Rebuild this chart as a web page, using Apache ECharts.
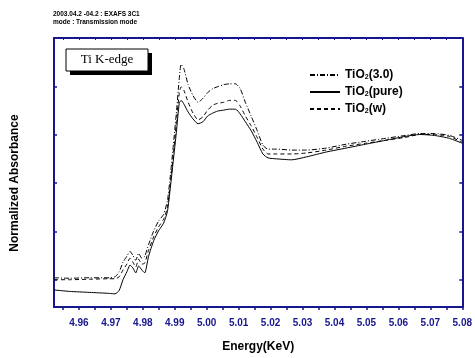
<!DOCTYPE html>
<html><head><meta charset="utf-8">
<script src="https://cdn.jsdelivr.net/npm/echarts@6/dist/echarts.min.js"></script>
<style>html,body{margin:0;padding:0;background:#fff}#c{width:475px;height:358px}</style>
</head><body><div id="c"></div>
<script>
// Energy (keV) sample points
const energy = [4.9522,4.9571,4.9633,4.9695,4.9713,4.9726,4.9738,4.9750,4.9760,4.9769,4.9778,4.9787,4.9797,4.9806,4.9818,4.9834,4.9849,4.9865,4.9877,4.9886,4.9895,4.9905,4.9914,4.9920,4.9929,4.9942,4.9957,4.9973,4.9988,5.0003,5.0019,5.0034,5.0053,5.0071,5.0090,5.0105,5.0121,5.0139,5.0158,5.0176,5.0192,5.0219,5.0266,5.0312,5.0374,5.0436,5.0497,5.0559,5.0621,5.0667,5.0713,5.0760,5.0800];
// Normalized absorbance, TiO2(3.0)
const tio2_30 = [0.2081,0.2060,0.2081,0.2081,0.2121,0.2323,0.2726,0.2968,0.3169,0.3008,0.2806,0.3089,0.2887,0.2968,0.3452,0.4016,0.4419,0.4702,0.5266,0.6274,0.7484,0.8895,1.0306,1.0911,1.0710,1.0065,0.9621,0.9339,0.9500,0.9742,0.9903,0.9984,1.0065,1.0105,1.0105,0.9903,0.9339,0.8774,0.8169,0.7565,0.7403,0.7403,0.7363,0.7363,0.7444,0.7605,0.7726,0.7847,0.7968,0.8048,0.8048,0.7968,0.7766];
// Normalized absorbance, TiO2(pure)
const tio2_pure = [0.1577,0.1516,0.1476,0.1435,0.1415,0.1556,0.2000,0.2323,0.2605,0.2484,0.2282,0.2565,0.2403,0.2282,0.2968,0.3613,0.4016,0.4339,0.4823,0.5790,0.6879,0.8089,0.9298,0.9419,0.9258,0.8935,0.8653,0.8452,0.8532,0.8774,0.8895,0.8976,0.9016,0.9056,0.9056,0.8855,0.8532,0.8169,0.7685,0.7202,0.7040,0.7000,0.6960,0.7081,0.7282,0.7444,0.7605,0.7766,0.7927,0.8008,0.7968,0.7847,0.7645];
// Normalized absorbance, TiO2(w)
const tio2_w = [0.2000,0.2000,0.2020,0.2040,0.2040,0.2121,0.2403,0.2645,0.2887,0.2726,0.2524,0.2847,0.2645,0.2685,0.3210,0.3774,0.4177,0.4500,0.4984,0.5952,0.7081,0.8492,0.9702,0.9984,0.9823,0.9339,0.8895,0.8613,0.8734,0.9016,0.9218,0.9298,0.9339,0.9419,0.9419,0.9177,0.8774,0.8371,0.7887,0.7403,0.7202,0.7202,0.7202,0.7242,0.7363,0.7524,0.7645,0.7766,0.7887,0.8008,0.8008,0.7927,0.7685];

const xTickLabels = [4.96,4.97,4.98,4.99,5.00,5.01,5.02,5.03,5.04,5.05,5.06,5.07,5.08];
const yTicks = [0.2,0.4,0.6,0.8,1.0];
const seriesNames = ['TiO2(3.0)','TiO2(pure)','TiO2(w)'];
const xMin = 4.9522, xMax = 5.08, yMin = 0.0871, yMax = 1.2;

const navy = '#16168e';
const font = 'Arial, "Liberation Sans", sans-serif';
const xMinorTicks = [];
xTickLabels.forEach(v => { xMinorTicks.push(+(v - 0.005).toFixed(3)); xMinorTicks.push(v); });

const chart = echarts.init(document.getElementById('c'), null, {renderer: 'canvas'});
const mk = arr => energy.map((e, i) => [e, arr[i]]);
const lineTypes = [[5,2,1,2], 'solid', [4,3]];
const dataSets = [tio2_30, tio2_pure, tio2_w];

chart.setOption({
  animation: false,
  backgroundColor: '#fff',
  grid: {left: 54, right: 7, top: 38, bottom: 44, containLabel: false},
  legend: {
    orient: 'vertical', left: 304, top: 64,
    itemWidth: 30, itemHeight: 10, itemGap: 5,
    data: seriesNames,
    itemStyle: {opacity: 0},
    formatter: n => n.replace('TiO2', 'TiO{sub|2}'),
    textStyle: {
      fontFamily: font, fontWeight: 'bold', fontSize: 12, color: '#000',
      rich: {sub: {fontFamily: font, fontWeight: 'bold', fontSize: 7, color: '#000', padding: [5, 0, 0, 0]}}
    }
  },
  xAxis: [{
    type: 'value', position: 'bottom', min: xMin, max: xMax,
    axisLine: {show: true, onZero: false, lineStyle: {color: navy, width: 2}},
    axisTick: {show: true, inside: false, length: 3, customValues: xMinorTicks, lineStyle: {color: navy, width: 1.5}},
    axisLabel: {customValues: xTickLabels, formatter: v => v.toFixed(2), color: navy, fontWeight: 'bold', fontSize: 10, fontFamily: font, margin: 11},
    splitLine: {show: false},
    name: 'Energy(KeV)', nameLocation: 'middle', nameGap: 34,
    nameTextStyle: {fontFamily: font, fontWeight: 'bold', fontSize: 12, color: '#000'}
  }, {
    type: 'value', position: 'top', min: xMin, max: xMax,
    axisLine: {show: true, onZero: false, lineStyle: {color: navy, width: 2}},
    axisTick: {show: true, inside: true, length: 2, customValues: xMinorTicks, lineStyle: {color: navy, width: 1}},
    axisLabel: {show: false}, splitLine: {show: false}
  }],
  yAxis: [{
    type: 'value', position: 'left', min: yMin, max: yMax,
    axisLine: {show: true, onZero: false, lineStyle: {color: navy, width: 2}},
    axisTick: {show: true, inside: true, length: 3, customValues: yTicks, lineStyle: {color: navy, width: 1.5}},
    axisLabel: {show: false}, splitLine: {show: false}
  }, {
    type: 'value', position: 'right', min: yMin, max: yMax,
    axisLine: {show: true, onZero: false, lineStyle: {color: navy, width: 2}},
    axisTick: {show: true, inside: true, length: 3, customValues: yTicks, lineStyle: {color: navy, width: 1.5}},
    axisLabel: {show: false}, splitLine: {show: false}
  }],
  series: seriesNames.map((name, i) => ({
    name, type: 'line', xAxisIndex: 0, yAxisIndex: 0,
    data: mk(dataSets[i]), symbol: 'none', smooth: 0.2,
    lineStyle: {color: '#000', width: 1, type: lineTypes[i]},
    itemStyle: {color: '#000'}
  })),
  graphic: [
    {type: 'text', left: 53, top: 11, style: {text: '2003.04.2 -04.2 : EXAFS 3C1', font: 'bold 6.5px ' + font, fill: '#000'}},
    {type: 'text', left: 53, top: 19, style: {text: 'mode : Transmission mode', font: 'bold 6.5px ' + font, fill: '#000'}},
    {type: 'text', x: 15, y: 183, rotation: Math.PI / 2, style: {text: 'Normalized Absorbance', font: 'bold 12px ' + font, fill: '#000', textAlign: 'center', textVerticalAlign: 'middle'}},
    {type: 'rect', shape: {x: 70, y: 53, width: 82, height: 22}, style: {fill: '#000'}},
    {type: 'rect', shape: {x: 66, y: 49, width: 82, height: 22}, style: {fill: '#fff', stroke: '#000', lineWidth: 1}},
    {type: 'text', x: 107, y: 60, style: {text: 'Ti K-edge', font: '13px "Liberation Serif", "Times New Roman", serif', fill: '#000', textAlign: 'center', textVerticalAlign: 'middle'}}
  ]
});
</script>
</body></html>
